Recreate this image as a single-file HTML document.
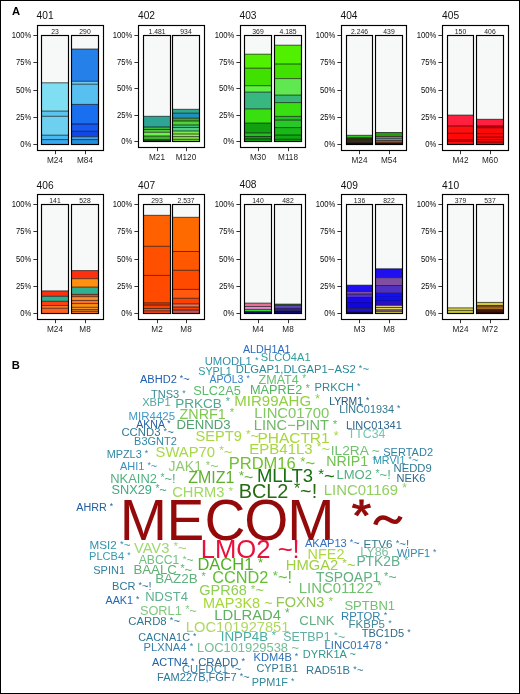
<!DOCTYPE html>
<html><head><meta charset="utf-8"><title>Figure</title>
<style>
html,body{margin:0;padding:0;background:#fff;}
body{width:520px;height:694px;overflow:hidden;}
.fig{position:relative;width:520px;height:694px;box-sizing:border-box;border-left:1.5px solid #000;border-top:1px solid #000;border-right:1.5px solid #000;border-bottom:1.5px solid #000;background:#fff;}
svg{position:absolute;left:0;top:0;will-change:transform;filter:blur(0.3px);}
text{font-family:"Liberation Sans", sans-serif;white-space:pre;}
</style></head><body>
<div class="fig">
<svg width="520" height="694" viewBox="0 0 520 694" style="left:-1.5px;top:-1px">
<rect x="37.5" y="25.5" width="66" height="125" fill="#fff" stroke="#000" stroke-width="1.15"/>
<line x1="33.40" y1="144.5" x2="37" y2="144.5" stroke="#333" stroke-width="1"/>
<line x1="33.40" y1="117.5" x2="37" y2="117.5" stroke="#333" stroke-width="1"/>
<line x1="33.40" y1="90.5" x2="37" y2="90.5" stroke="#333" stroke-width="1"/>
<line x1="33.40" y1="62.5" x2="37" y2="62.5" stroke="#333" stroke-width="1"/>
<line x1="33.40" y1="35.5" x2="37" y2="35.5" stroke="#333" stroke-width="1"/>
<rect x="41" y="35" width="28" height="110" fill="#f7f8f8"/>
<rect x="41" y="82.80" width="28" height="28.30" fill="#80def2"/>
<rect x="41" y="111.10" width="28" height="5.20" fill="#5cc4ee"/>
<rect x="41" y="116.30" width="28" height="18.90" fill="#6dd0f0"/>
<rect x="41" y="135.20" width="28" height="4.40" fill="#48b8f0"/>
<rect x="41" y="139.60" width="28" height="5.40" fill="#38a8f0"/>
<line x1="41" y1="82.80" x2="69" y2="82.80" stroke="#000" stroke-opacity="0.8" stroke-width="0.8"/>
<line x1="41" y1="111.10" x2="69" y2="111.10" stroke="#000" stroke-opacity="0.8" stroke-width="0.8"/>
<line x1="41" y1="116.30" x2="69" y2="116.30" stroke="#000" stroke-opacity="0.8" stroke-width="0.8"/>
<line x1="41" y1="135.20" x2="69" y2="135.20" stroke="#000" stroke-opacity="0.8" stroke-width="0.8"/>
<line x1="41" y1="139.60" x2="69" y2="139.60" stroke="#000" stroke-opacity="0.8" stroke-width="0.8"/>
<rect x="41.5" y="35.5" width="27" height="109" fill="none" stroke="#000" stroke-width="1.15"/>
<line x1="55.5" y1="151" x2="55.5" y2="154.2" stroke="#333" stroke-width="1"/>
<rect x="71" y="35" width="28" height="110" fill="#f7f8f8"/>
<rect x="71" y="49.00" width="28" height="32.30" fill="#2680ea"/>
<rect x="71" y="81.30" width="28" height="2.90" fill="#70c8e8"/>
<rect x="71" y="84.20" width="28" height="20.20" fill="#58c0f0"/>
<rect x="71" y="104.40" width="28" height="19.60" fill="#1a6ef0"/>
<rect x="71" y="124.00" width="28" height="7.30" fill="#1858f0"/>
<rect x="71" y="131.30" width="28" height="5.40" fill="#1048e8"/>
<rect x="71" y="136.70" width="28" height="2.90" fill="#40a0e8"/>
<rect x="71" y="139.60" width="28" height="5.40" fill="#2090e0"/>
<line x1="71" y1="49.00" x2="99" y2="49.00" stroke="#000" stroke-opacity="0.8" stroke-width="0.8"/>
<line x1="71" y1="81.30" x2="99" y2="81.30" stroke="#000" stroke-opacity="0.8" stroke-width="0.8"/>
<line x1="71" y1="84.20" x2="99" y2="84.20" stroke="#000" stroke-opacity="0.8" stroke-width="0.8"/>
<line x1="71" y1="104.40" x2="99" y2="104.40" stroke="#000" stroke-opacity="0.8" stroke-width="0.8"/>
<line x1="71" y1="124.00" x2="99" y2="124.00" stroke="#000" stroke-opacity="0.8" stroke-width="0.8"/>
<line x1="71" y1="131.30" x2="99" y2="131.30" stroke="#000" stroke-opacity="0.8" stroke-width="0.8"/>
<line x1="71" y1="136.70" x2="99" y2="136.70" stroke="#000" stroke-opacity="0.8" stroke-width="0.8"/>
<line x1="71" y1="139.60" x2="99" y2="139.60" stroke="#000" stroke-opacity="0.8" stroke-width="0.8"/>
<rect x="71.5" y="35.5" width="27" height="109" fill="none" stroke="#000" stroke-width="1.15"/>
<line x1="85.5" y1="151" x2="85.5" y2="154.2" stroke="#333" stroke-width="1"/>
<rect x="138.5" y="25.5" width="66" height="122" fill="#fff" stroke="#000" stroke-width="1.15"/>
<line x1="134.40" y1="141.5" x2="138" y2="141.5" stroke="#333" stroke-width="1"/>
<line x1="134.40" y1="115.5" x2="138" y2="115.5" stroke="#333" stroke-width="1"/>
<line x1="134.40" y1="88.5" x2="138" y2="88.5" stroke="#333" stroke-width="1"/>
<line x1="134.40" y1="62.5" x2="138" y2="62.5" stroke="#333" stroke-width="1"/>
<line x1="134.40" y1="35.5" x2="138" y2="35.5" stroke="#333" stroke-width="1"/>
<rect x="143" y="35" width="28" height="107" fill="#f7f8f8"/>
<rect x="143" y="116.30" width="28" height="10.70" fill="#2ea595"/>
<rect x="143" y="127.00" width="28" height="2.50" fill="#40b830"/>
<rect x="143" y="129.50" width="28" height="2.80" fill="#50c840"/>
<rect x="143" y="132.30" width="28" height="3.70" fill="#70f050"/>
<rect x="143" y="136.00" width="28" height="3.70" fill="#40b030"/>
<rect x="143" y="139.70" width="28" height="2.30" fill="#1a5a1a"/>
<line x1="143" y1="116.30" x2="171" y2="116.30" stroke="#000" stroke-opacity="0.8" stroke-width="0.8"/>
<line x1="143" y1="127.00" x2="171" y2="127.00" stroke="#000" stroke-opacity="0.8" stroke-width="0.8"/>
<line x1="143" y1="129.50" x2="171" y2="129.50" stroke="#000" stroke-opacity="0.8" stroke-width="0.8"/>
<line x1="143" y1="132.30" x2="171" y2="132.30" stroke="#000" stroke-opacity="0.8" stroke-width="0.8"/>
<line x1="143" y1="136.00" x2="171" y2="136.00" stroke="#000" stroke-opacity="0.8" stroke-width="0.8"/>
<line x1="143" y1="139.70" x2="171" y2="139.70" stroke="#000" stroke-opacity="0.8" stroke-width="0.8"/>
<rect x="143.5" y="35.5" width="27" height="106" fill="none" stroke="#000" stroke-width="1.15"/>
<line x1="157.5" y1="148" x2="157.5" y2="151.2" stroke="#333" stroke-width="1"/>
<rect x="172" y="35" width="28" height="107" fill="#f7f8f8"/>
<rect x="172" y="109.30" width="28" height="3.90" fill="#30a890"/>
<rect x="172" y="113.20" width="28" height="5.00" fill="#2090c0"/>
<rect x="172" y="118.20" width="28" height="2.80" fill="#40a828"/>
<rect x="172" y="121.00" width="28" height="4.00" fill="#50d040"/>
<rect x="172" y="125.00" width="28" height="2.50" fill="#40c080"/>
<rect x="172" y="127.50" width="28" height="3.50" fill="#50d080"/>
<rect x="172" y="131.00" width="28" height="3.00" fill="#80e850"/>
<rect x="172" y="134.00" width="28" height="2.60" fill="#90ec58"/>
<rect x="172" y="136.60" width="28" height="2.70" fill="#80e440"/>
<rect x="172" y="139.30" width="28" height="2.70" fill="#70d830"/>
<line x1="172" y1="109.30" x2="200" y2="109.30" stroke="#000" stroke-opacity="0.8" stroke-width="0.8"/>
<line x1="172" y1="113.20" x2="200" y2="113.20" stroke="#000" stroke-opacity="0.8" stroke-width="0.8"/>
<line x1="172" y1="118.20" x2="200" y2="118.20" stroke="#000" stroke-opacity="0.8" stroke-width="0.8"/>
<line x1="172" y1="121.00" x2="200" y2="121.00" stroke="#000" stroke-opacity="0.8" stroke-width="0.8"/>
<line x1="172" y1="125.00" x2="200" y2="125.00" stroke="#000" stroke-opacity="0.8" stroke-width="0.8"/>
<line x1="172" y1="127.50" x2="200" y2="127.50" stroke="#000" stroke-opacity="0.8" stroke-width="0.8"/>
<line x1="172" y1="131.00" x2="200" y2="131.00" stroke="#000" stroke-opacity="0.8" stroke-width="0.8"/>
<line x1="172" y1="134.00" x2="200" y2="134.00" stroke="#000" stroke-opacity="0.8" stroke-width="0.8"/>
<line x1="172" y1="136.60" x2="200" y2="136.60" stroke="#000" stroke-opacity="0.8" stroke-width="0.8"/>
<line x1="172" y1="139.30" x2="200" y2="139.30" stroke="#000" stroke-opacity="0.8" stroke-width="0.8"/>
<rect x="172.5" y="35.5" width="27" height="106" fill="none" stroke="#000" stroke-width="1.15"/>
<line x1="186.5" y1="148" x2="186.5" y2="151.2" stroke="#333" stroke-width="1"/>
<rect x="240.5" y="25.5" width="65" height="122" fill="#fff" stroke="#000" stroke-width="1.15"/>
<line x1="236.40" y1="141.5" x2="240" y2="141.5" stroke="#333" stroke-width="1"/>
<line x1="236.40" y1="115.5" x2="240" y2="115.5" stroke="#333" stroke-width="1"/>
<line x1="236.40" y1="88.5" x2="240" y2="88.5" stroke="#333" stroke-width="1"/>
<line x1="236.40" y1="62.5" x2="240" y2="62.5" stroke="#333" stroke-width="1"/>
<line x1="236.40" y1="35.5" x2="240" y2="35.5" stroke="#333" stroke-width="1"/>
<rect x="244" y="35" width="28" height="107" fill="#f7f8f8"/>
<rect x="244" y="54.20" width="28" height="14.00" fill="#50f000"/>
<rect x="244" y="68.20" width="28" height="17.50" fill="#40e000"/>
<rect x="244" y="85.70" width="28" height="6.40" fill="#60f040"/>
<rect x="244" y="92.10" width="28" height="16.80" fill="#38b880"/>
<rect x="244" y="108.90" width="28" height="14.20" fill="#38e010"/>
<rect x="244" y="123.10" width="28" height="9.80" fill="#10a010"/>
<rect x="244" y="132.90" width="28" height="3.60" fill="#20c020"/>
<rect x="244" y="136.50" width="28" height="2.50" fill="#109810"/>
<rect x="244" y="139.00" width="28" height="3.00" fill="#10a010"/>
<line x1="244" y1="54.20" x2="272" y2="54.20" stroke="#000" stroke-opacity="0.8" stroke-width="0.8"/>
<line x1="244" y1="68.20" x2="272" y2="68.20" stroke="#000" stroke-opacity="0.8" stroke-width="0.8"/>
<line x1="244" y1="85.70" x2="272" y2="85.70" stroke="#000" stroke-opacity="0.8" stroke-width="0.8"/>
<line x1="244" y1="92.10" x2="272" y2="92.10" stroke="#000" stroke-opacity="0.8" stroke-width="0.8"/>
<line x1="244" y1="108.90" x2="272" y2="108.90" stroke="#000" stroke-opacity="0.8" stroke-width="0.8"/>
<line x1="244" y1="123.10" x2="272" y2="123.10" stroke="#000" stroke-opacity="0.8" stroke-width="0.8"/>
<line x1="244" y1="132.90" x2="272" y2="132.90" stroke="#000" stroke-opacity="0.8" stroke-width="0.8"/>
<line x1="244" y1="136.50" x2="272" y2="136.50" stroke="#000" stroke-opacity="0.8" stroke-width="0.8"/>
<line x1="244" y1="139.00" x2="272" y2="139.00" stroke="#000" stroke-opacity="0.8" stroke-width="0.8"/>
<rect x="244.5" y="35.5" width="27" height="106" fill="none" stroke="#000" stroke-width="1.15"/>
<line x1="258.5" y1="148" x2="258.5" y2="151.2" stroke="#333" stroke-width="1"/>
<rect x="274" y="35" width="28" height="107" fill="#f7f8f8"/>
<rect x="274" y="45.20" width="28" height="18.80" fill="#50f000"/>
<rect x="274" y="64.00" width="28" height="14.60" fill="#40e000"/>
<rect x="274" y="78.60" width="28" height="16.50" fill="#60e850"/>
<rect x="274" y="95.10" width="28" height="7.50" fill="#38b878"/>
<rect x="274" y="102.60" width="28" height="13.80" fill="#38e010"/>
<rect x="274" y="116.40" width="28" height="3.70" fill="#20c020"/>
<rect x="274" y="120.10" width="28" height="7.50" fill="#28c828"/>
<rect x="274" y="127.60" width="28" height="7.50" fill="#18b818"/>
<rect x="274" y="135.10" width="28" height="4.20" fill="#10a810"/>
<rect x="274" y="139.30" width="28" height="2.70" fill="#10a010"/>
<line x1="274" y1="45.20" x2="302" y2="45.20" stroke="#000" stroke-opacity="0.8" stroke-width="0.8"/>
<line x1="274" y1="64.00" x2="302" y2="64.00" stroke="#000" stroke-opacity="0.8" stroke-width="0.8"/>
<line x1="274" y1="78.60" x2="302" y2="78.60" stroke="#000" stroke-opacity="0.8" stroke-width="0.8"/>
<line x1="274" y1="95.10" x2="302" y2="95.10" stroke="#000" stroke-opacity="0.8" stroke-width="0.8"/>
<line x1="274" y1="102.60" x2="302" y2="102.60" stroke="#000" stroke-opacity="0.8" stroke-width="0.8"/>
<line x1="274" y1="116.40" x2="302" y2="116.40" stroke="#000" stroke-opacity="0.8" stroke-width="0.8"/>
<line x1="274" y1="120.10" x2="302" y2="120.10" stroke="#000" stroke-opacity="0.8" stroke-width="0.8"/>
<line x1="274" y1="127.60" x2="302" y2="127.60" stroke="#000" stroke-opacity="0.8" stroke-width="0.8"/>
<line x1="274" y1="135.10" x2="302" y2="135.10" stroke="#000" stroke-opacity="0.8" stroke-width="0.8"/>
<line x1="274" y1="139.30" x2="302" y2="139.30" stroke="#000" stroke-opacity="0.8" stroke-width="0.8"/>
<rect x="274.5" y="35.5" width="27" height="106" fill="none" stroke="#000" stroke-width="1.15"/>
<line x1="288.5" y1="148" x2="288.5" y2="151.2" stroke="#333" stroke-width="1"/>
<rect x="341.5" y="25.5" width="65" height="125" fill="#fff" stroke="#000" stroke-width="1.15"/>
<line x1="337.40" y1="144.5" x2="341" y2="144.5" stroke="#333" stroke-width="1"/>
<line x1="337.40" y1="117.5" x2="341" y2="117.5" stroke="#333" stroke-width="1"/>
<line x1="337.40" y1="90.5" x2="341" y2="90.5" stroke="#333" stroke-width="1"/>
<line x1="337.40" y1="62.5" x2="341" y2="62.5" stroke="#333" stroke-width="1"/>
<line x1="337.40" y1="35.5" x2="341" y2="35.5" stroke="#333" stroke-width="1"/>
<rect x="346" y="35" width="27" height="110" fill="#f7f8f8"/>
<rect x="346" y="135.30" width="27" height="2.50" fill="#30c020"/>
<rect x="346" y="137.80" width="27" height="2.40" fill="#304010"/>
<rect x="346" y="140.20" width="27" height="2.40" fill="#403010"/>
<rect x="346" y="142.60" width="27" height="2.40" fill="#300404"/>
<line x1="346" y1="135.30" x2="373" y2="135.30" stroke="#000" stroke-opacity="0.8" stroke-width="0.8"/>
<line x1="346" y1="137.80" x2="373" y2="137.80" stroke="#000" stroke-opacity="0.8" stroke-width="0.8"/>
<line x1="346" y1="140.20" x2="373" y2="140.20" stroke="#000" stroke-opacity="0.8" stroke-width="0.8"/>
<line x1="346" y1="142.60" x2="373" y2="142.60" stroke="#000" stroke-opacity="0.8" stroke-width="0.8"/>
<rect x="346.5" y="35.5" width="26" height="109" fill="none" stroke="#000" stroke-width="1.15"/>
<line x1="359.5" y1="151" x2="359.5" y2="154.2" stroke="#333" stroke-width="1"/>
<rect x="375" y="35" width="28" height="110" fill="#f7f8f8"/>
<rect x="375" y="132.50" width="28" height="4.00" fill="#20a010"/>
<rect x="375" y="136.50" width="28" height="1.80" fill="#f06060"/>
<rect x="375" y="138.30" width="28" height="2.30" fill="#40a0b0"/>
<rect x="375" y="140.60" width="28" height="2.20" fill="#c05018"/>
<rect x="375" y="142.80" width="28" height="2.20" fill="#401008"/>
<line x1="375" y1="132.50" x2="403" y2="132.50" stroke="#000" stroke-opacity="0.8" stroke-width="0.8"/>
<line x1="375" y1="136.50" x2="403" y2="136.50" stroke="#000" stroke-opacity="0.8" stroke-width="0.8"/>
<line x1="375" y1="138.30" x2="403" y2="138.30" stroke="#000" stroke-opacity="0.8" stroke-width="0.8"/>
<line x1="375" y1="140.60" x2="403" y2="140.60" stroke="#000" stroke-opacity="0.8" stroke-width="0.8"/>
<line x1="375" y1="142.80" x2="403" y2="142.80" stroke="#000" stroke-opacity="0.8" stroke-width="0.8"/>
<rect x="375.5" y="35.5" width="27" height="109" fill="none" stroke="#000" stroke-width="1.15"/>
<line x1="389.5" y1="151" x2="389.5" y2="154.2" stroke="#333" stroke-width="1"/>
<rect x="442.5" y="25.5" width="66" height="125" fill="#fff" stroke="#000" stroke-width="1.15"/>
<line x1="438.40" y1="144.5" x2="442" y2="144.5" stroke="#333" stroke-width="1"/>
<line x1="438.40" y1="117.5" x2="442" y2="117.5" stroke="#333" stroke-width="1"/>
<line x1="438.40" y1="90.5" x2="442" y2="90.5" stroke="#333" stroke-width="1"/>
<line x1="438.40" y1="62.5" x2="442" y2="62.5" stroke="#333" stroke-width="1"/>
<line x1="438.40" y1="35.5" x2="442" y2="35.5" stroke="#333" stroke-width="1"/>
<rect x="447" y="35" width="27" height="110" fill="#f7f8f8"/>
<rect x="447" y="115.10" width="27" height="10.80" fill="#ff2040"/>
<rect x="447" y="125.90" width="27" height="7.40" fill="#ff1010"/>
<rect x="447" y="133.30" width="27" height="6.30" fill="#ff0808"/>
<rect x="447" y="139.60" width="27" height="1.80" fill="#e00000"/>
<rect x="447" y="141.40" width="27" height="3.60" fill="#ff1010"/>
<line x1="447" y1="115.10" x2="474" y2="115.10" stroke="#000" stroke-opacity="0.8" stroke-width="0.8"/>
<line x1="447" y1="125.90" x2="474" y2="125.90" stroke="#000" stroke-opacity="0.8" stroke-width="0.8"/>
<line x1="447" y1="133.30" x2="474" y2="133.30" stroke="#000" stroke-opacity="0.8" stroke-width="0.8"/>
<line x1="447" y1="139.60" x2="474" y2="139.60" stroke="#000" stroke-opacity="0.8" stroke-width="0.8"/>
<line x1="447" y1="141.40" x2="474" y2="141.40" stroke="#000" stroke-opacity="0.8" stroke-width="0.8"/>
<rect x="447.5" y="35.5" width="26" height="109" fill="none" stroke="#000" stroke-width="1.15"/>
<line x1="460.5" y1="151" x2="460.5" y2="154.2" stroke="#333" stroke-width="1"/>
<rect x="476" y="35" width="28" height="110" fill="#f7f8f8"/>
<rect x="476" y="119.30" width="28" height="6.60" fill="#ff2040"/>
<rect x="476" y="125.90" width="28" height="1.80" fill="#e00010"/>
<rect x="476" y="127.70" width="28" height="5.90" fill="#ff0808"/>
<rect x="476" y="133.60" width="28" height="3.60" fill="#ff0808"/>
<rect x="476" y="137.20" width="28" height="2.40" fill="#ff0808"/>
<rect x="476" y="139.60" width="28" height="2.40" fill="#ff0808"/>
<rect x="476" y="142.00" width="28" height="3.00" fill="#ff0808"/>
<line x1="476" y1="119.30" x2="504" y2="119.30" stroke="#000" stroke-opacity="0.8" stroke-width="0.8"/>
<line x1="476" y1="125.90" x2="504" y2="125.90" stroke="#000" stroke-opacity="0.8" stroke-width="0.8"/>
<line x1="476" y1="127.70" x2="504" y2="127.70" stroke="#000" stroke-opacity="0.8" stroke-width="0.8"/>
<line x1="476" y1="133.60" x2="504" y2="133.60" stroke="#000" stroke-opacity="0.8" stroke-width="0.8"/>
<line x1="476" y1="137.20" x2="504" y2="137.20" stroke="#000" stroke-opacity="0.8" stroke-width="0.8"/>
<line x1="476" y1="139.60" x2="504" y2="139.60" stroke="#000" stroke-opacity="0.8" stroke-width="0.8"/>
<line x1="476" y1="142.00" x2="504" y2="142.00" stroke="#000" stroke-opacity="0.8" stroke-width="0.8"/>
<rect x="476.5" y="35.5" width="27" height="109" fill="none" stroke="#000" stroke-width="1.15"/>
<line x1="490.5" y1="151" x2="490.5" y2="154.2" stroke="#333" stroke-width="1"/>
<rect x="37.5" y="194.5" width="66" height="125" fill="#fff" stroke="#000" stroke-width="1.15"/>
<line x1="33.40" y1="313.5" x2="37" y2="313.5" stroke="#333" stroke-width="1"/>
<line x1="33.40" y1="286.5" x2="37" y2="286.5" stroke="#333" stroke-width="1"/>
<line x1="33.40" y1="259.5" x2="37" y2="259.5" stroke="#333" stroke-width="1"/>
<line x1="33.40" y1="231.5" x2="37" y2="231.5" stroke="#333" stroke-width="1"/>
<line x1="33.40" y1="204.5" x2="37" y2="204.5" stroke="#333" stroke-width="1"/>
<rect x="41" y="204" width="28" height="110" fill="#f7f8f8"/>
<rect x="41" y="290.90" width="28" height="5.40" fill="#ff3010"/>
<rect x="41" y="296.30" width="28" height="5.00" fill="#30b090"/>
<rect x="41" y="301.30" width="28" height="4.30" fill="#ff4010"/>
<rect x="41" y="305.60" width="28" height="2.60" fill="#ff8030"/>
<rect x="41" y="308.20" width="28" height="5.80" fill="#ff6020"/>
<line x1="41" y1="290.90" x2="69" y2="290.90" stroke="#000" stroke-opacity="0.8" stroke-width="0.8"/>
<line x1="41" y1="296.30" x2="69" y2="296.30" stroke="#000" stroke-opacity="0.8" stroke-width="0.8"/>
<line x1="41" y1="301.30" x2="69" y2="301.30" stroke="#000" stroke-opacity="0.8" stroke-width="0.8"/>
<line x1="41" y1="305.60" x2="69" y2="305.60" stroke="#000" stroke-opacity="0.8" stroke-width="0.8"/>
<line x1="41" y1="308.20" x2="69" y2="308.20" stroke="#000" stroke-opacity="0.8" stroke-width="0.8"/>
<rect x="41.5" y="204.5" width="27" height="109" fill="none" stroke="#000" stroke-width="1.15"/>
<line x1="55.5" y1="320" x2="55.5" y2="323.2" stroke="#333" stroke-width="1"/>
<rect x="71" y="204" width="28" height="110" fill="#f7f8f8"/>
<rect x="71" y="270.60" width="28" height="8.10" fill="#ff3010"/>
<rect x="71" y="278.70" width="28" height="8.40" fill="#ff9010"/>
<rect x="71" y="287.10" width="28" height="7.30" fill="#30b090"/>
<rect x="71" y="294.40" width="28" height="2.30" fill="#ff4010"/>
<rect x="71" y="296.70" width="28" height="3.70" fill="#ff9030"/>
<rect x="71" y="300.40" width="28" height="3.20" fill="#ff7020"/>
<rect x="71" y="303.60" width="28" height="3.70" fill="#ff9010"/>
<rect x="71" y="307.30" width="28" height="2.10" fill="#ffa020"/>
<rect x="71" y="309.40" width="28" height="1.90" fill="#e08020"/>
<rect x="71" y="311.30" width="28" height="2.70" fill="#ff7020"/>
<line x1="71" y1="270.60" x2="99" y2="270.60" stroke="#000" stroke-opacity="0.8" stroke-width="0.8"/>
<line x1="71" y1="278.70" x2="99" y2="278.70" stroke="#000" stroke-opacity="0.8" stroke-width="0.8"/>
<line x1="71" y1="287.10" x2="99" y2="287.10" stroke="#000" stroke-opacity="0.8" stroke-width="0.8"/>
<line x1="71" y1="294.40" x2="99" y2="294.40" stroke="#000" stroke-opacity="0.8" stroke-width="0.8"/>
<line x1="71" y1="296.70" x2="99" y2="296.70" stroke="#000" stroke-opacity="0.8" stroke-width="0.8"/>
<line x1="71" y1="300.40" x2="99" y2="300.40" stroke="#000" stroke-opacity="0.8" stroke-width="0.8"/>
<line x1="71" y1="303.60" x2="99" y2="303.60" stroke="#000" stroke-opacity="0.8" stroke-width="0.8"/>
<line x1="71" y1="307.30" x2="99" y2="307.30" stroke="#000" stroke-opacity="0.8" stroke-width="0.8"/>
<line x1="71" y1="309.40" x2="99" y2="309.40" stroke="#000" stroke-opacity="0.8" stroke-width="0.8"/>
<line x1="71" y1="311.30" x2="99" y2="311.30" stroke="#000" stroke-opacity="0.8" stroke-width="0.8"/>
<rect x="71.5" y="204.5" width="27" height="109" fill="none" stroke="#000" stroke-width="1.15"/>
<line x1="85.5" y1="320" x2="85.5" y2="323.2" stroke="#333" stroke-width="1"/>
<rect x="138.5" y="194.5" width="66" height="125" fill="#fff" stroke="#000" stroke-width="1.15"/>
<line x1="134.40" y1="313.5" x2="138" y2="313.5" stroke="#333" stroke-width="1"/>
<line x1="134.40" y1="286.5" x2="138" y2="286.5" stroke="#333" stroke-width="1"/>
<line x1="134.40" y1="259.5" x2="138" y2="259.5" stroke="#333" stroke-width="1"/>
<line x1="134.40" y1="231.5" x2="138" y2="231.5" stroke="#333" stroke-width="1"/>
<line x1="134.40" y1="204.5" x2="138" y2="204.5" stroke="#333" stroke-width="1"/>
<rect x="143" y="204" width="28" height="110" fill="#f7f8f8"/>
<rect x="143" y="215.30" width="28" height="31.00" fill="#ff6000"/>
<rect x="143" y="246.30" width="28" height="29.10" fill="#ff5000"/>
<rect x="143" y="275.40" width="28" height="27.50" fill="#ff4a00"/>
<rect x="143" y="302.90" width="28" height="2.10" fill="#f04010"/>
<rect x="143" y="305.00" width="28" height="3.50" fill="#ff4000"/>
<rect x="143" y="308.50" width="28" height="2.30" fill="#ff5010"/>
<rect x="143" y="310.80" width="28" height="3.20" fill="#ff4010"/>
<line x1="143" y1="215.30" x2="171" y2="215.30" stroke="#000" stroke-opacity="0.8" stroke-width="0.8"/>
<line x1="143" y1="246.30" x2="171" y2="246.30" stroke="#000" stroke-opacity="0.8" stroke-width="0.8"/>
<line x1="143" y1="275.40" x2="171" y2="275.40" stroke="#000" stroke-opacity="0.8" stroke-width="0.8"/>
<line x1="143" y1="302.90" x2="171" y2="302.90" stroke="#000" stroke-opacity="0.8" stroke-width="0.8"/>
<line x1="143" y1="305.00" x2="171" y2="305.00" stroke="#000" stroke-opacity="0.8" stroke-width="0.8"/>
<line x1="143" y1="308.50" x2="171" y2="308.50" stroke="#000" stroke-opacity="0.8" stroke-width="0.8"/>
<line x1="143" y1="310.80" x2="171" y2="310.80" stroke="#000" stroke-opacity="0.8" stroke-width="0.8"/>
<rect x="143.5" y="204.5" width="27" height="109" fill="none" stroke="#000" stroke-width="1.15"/>
<line x1="157.5" y1="320" x2="157.5" y2="323.2" stroke="#333" stroke-width="1"/>
<rect x="172" y="204" width="28" height="110" fill="#f7f8f8"/>
<rect x="172" y="217.30" width="28" height="34.20" fill="#ff6a00"/>
<rect x="172" y="251.50" width="28" height="18.80" fill="#ff5800"/>
<rect x="172" y="270.30" width="28" height="19.10" fill="#ff4a00"/>
<rect x="172" y="289.40" width="28" height="8.90" fill="#ff5a10"/>
<rect x="172" y="298.30" width="28" height="5.60" fill="#ff4000"/>
<rect x="172" y="303.90" width="28" height="3.10" fill="#f07050"/>
<rect x="172" y="307.00" width="28" height="3.00" fill="#ff4000"/>
<rect x="172" y="310.00" width="28" height="4.00" fill="#c85050"/>
<line x1="172" y1="217.30" x2="200" y2="217.30" stroke="#000" stroke-opacity="0.8" stroke-width="0.8"/>
<line x1="172" y1="251.50" x2="200" y2="251.50" stroke="#000" stroke-opacity="0.8" stroke-width="0.8"/>
<line x1="172" y1="270.30" x2="200" y2="270.30" stroke="#000" stroke-opacity="0.8" stroke-width="0.8"/>
<line x1="172" y1="289.40" x2="200" y2="289.40" stroke="#000" stroke-opacity="0.8" stroke-width="0.8"/>
<line x1="172" y1="298.30" x2="200" y2="298.30" stroke="#000" stroke-opacity="0.8" stroke-width="0.8"/>
<line x1="172" y1="303.90" x2="200" y2="303.90" stroke="#000" stroke-opacity="0.8" stroke-width="0.8"/>
<line x1="172" y1="307.00" x2="200" y2="307.00" stroke="#000" stroke-opacity="0.8" stroke-width="0.8"/>
<line x1="172" y1="310.00" x2="200" y2="310.00" stroke="#000" stroke-opacity="0.8" stroke-width="0.8"/>
<rect x="172.5" y="204.5" width="27" height="109" fill="none" stroke="#000" stroke-width="1.15"/>
<line x1="186.5" y1="320" x2="186.5" y2="323.2" stroke="#333" stroke-width="1"/>
<rect x="240.5" y="194.5" width="65" height="125" fill="#fff" stroke="#000" stroke-width="1.15"/>
<line x1="236.40" y1="313.5" x2="240" y2="313.5" stroke="#333" stroke-width="1"/>
<line x1="236.40" y1="286.5" x2="240" y2="286.5" stroke="#333" stroke-width="1"/>
<line x1="236.40" y1="259.5" x2="240" y2="259.5" stroke="#333" stroke-width="1"/>
<line x1="236.40" y1="231.5" x2="240" y2="231.5" stroke="#333" stroke-width="1"/>
<line x1="236.40" y1="204.5" x2="240" y2="204.5" stroke="#333" stroke-width="1"/>
<rect x="244" y="204" width="28" height="110" fill="#f7f8f8"/>
<rect x="244" y="303.10" width="28" height="3.40" fill="#e87090"/>
<rect x="244" y="306.50" width="28" height="2.90" fill="#e888e0"/>
<rect x="244" y="309.40" width="28" height="2.20" fill="#30e030"/>
<rect x="244" y="311.60" width="28" height="2.40" fill="#101060"/>
<line x1="244" y1="303.10" x2="272" y2="303.10" stroke="#000" stroke-opacity="0.8" stroke-width="0.8"/>
<line x1="244" y1="306.50" x2="272" y2="306.50" stroke="#000" stroke-opacity="0.8" stroke-width="0.8"/>
<line x1="244" y1="309.40" x2="272" y2="309.40" stroke="#000" stroke-opacity="0.8" stroke-width="0.8"/>
<line x1="244" y1="311.60" x2="272" y2="311.60" stroke="#000" stroke-opacity="0.8" stroke-width="0.8"/>
<rect x="244.5" y="204.5" width="27" height="109" fill="none" stroke="#000" stroke-width="1.15"/>
<line x1="258.5" y1="320" x2="258.5" y2="323.2" stroke="#333" stroke-width="1"/>
<rect x="274" y="204" width="28" height="110" fill="#f7f8f8"/>
<rect x="274" y="304.10" width="28" height="1.60" fill="#306030"/>
<rect x="274" y="305.70" width="28" height="2.50" fill="#7050d0"/>
<rect x="274" y="308.20" width="28" height="2.60" fill="#3020b0"/>
<rect x="274" y="310.80" width="28" height="3.20" fill="#100870"/>
<line x1="274" y1="304.10" x2="302" y2="304.10" stroke="#000" stroke-opacity="0.8" stroke-width="0.8"/>
<line x1="274" y1="305.70" x2="302" y2="305.70" stroke="#000" stroke-opacity="0.8" stroke-width="0.8"/>
<line x1="274" y1="308.20" x2="302" y2="308.20" stroke="#000" stroke-opacity="0.8" stroke-width="0.8"/>
<line x1="274" y1="310.80" x2="302" y2="310.80" stroke="#000" stroke-opacity="0.8" stroke-width="0.8"/>
<rect x="274.5" y="204.5" width="27" height="109" fill="none" stroke="#000" stroke-width="1.15"/>
<line x1="288.5" y1="320" x2="288.5" y2="323.2" stroke="#333" stroke-width="1"/>
<rect x="341.5" y="194.5" width="65" height="125" fill="#fff" stroke="#000" stroke-width="1.15"/>
<line x1="337.40" y1="313.5" x2="341" y2="313.5" stroke="#333" stroke-width="1"/>
<line x1="337.40" y1="286.5" x2="341" y2="286.5" stroke="#333" stroke-width="1"/>
<line x1="337.40" y1="259.5" x2="341" y2="259.5" stroke="#333" stroke-width="1"/>
<line x1="337.40" y1="231.5" x2="341" y2="231.5" stroke="#333" stroke-width="1"/>
<line x1="337.40" y1="204.5" x2="341" y2="204.5" stroke="#333" stroke-width="1"/>
<rect x="346" y="204" width="27" height="110" fill="#f7f8f8"/>
<rect x="346" y="285.20" width="27" height="6.30" fill="#2010f0"/>
<rect x="346" y="291.50" width="27" height="2.60" fill="#8050a0"/>
<rect x="346" y="294.10" width="27" height="3.40" fill="#5030d0"/>
<rect x="346" y="297.50" width="27" height="5.60" fill="#1808e8"/>
<rect x="346" y="303.10" width="27" height="5.30" fill="#1008d8"/>
<rect x="346" y="308.40" width="27" height="3.20" fill="#2010d0"/>
<rect x="346" y="311.60" width="27" height="2.40" fill="#100040"/>
<line x1="346" y1="285.20" x2="373" y2="285.20" stroke="#000" stroke-opacity="0.8" stroke-width="0.8"/>
<line x1="346" y1="291.50" x2="373" y2="291.50" stroke="#000" stroke-opacity="0.8" stroke-width="0.8"/>
<line x1="346" y1="294.10" x2="373" y2="294.10" stroke="#000" stroke-opacity="0.8" stroke-width="0.8"/>
<line x1="346" y1="297.50" x2="373" y2="297.50" stroke="#000" stroke-opacity="0.8" stroke-width="0.8"/>
<line x1="346" y1="303.10" x2="373" y2="303.10" stroke="#000" stroke-opacity="0.8" stroke-width="0.8"/>
<line x1="346" y1="308.40" x2="373" y2="308.40" stroke="#000" stroke-opacity="0.8" stroke-width="0.8"/>
<line x1="346" y1="311.60" x2="373" y2="311.60" stroke="#000" stroke-opacity="0.8" stroke-width="0.8"/>
<rect x="346.5" y="204.5" width="26" height="109" fill="none" stroke="#000" stroke-width="1.15"/>
<line x1="359.5" y1="320" x2="359.5" y2="323.2" stroke="#333" stroke-width="1"/>
<rect x="375" y="204" width="28" height="110" fill="#f7f8f8"/>
<rect x="375" y="268.80" width="28" height="8.90" fill="#2010f0"/>
<rect x="375" y="277.70" width="28" height="7.80" fill="#8050a0"/>
<rect x="375" y="285.50" width="28" height="7.70" fill="#5030c0"/>
<rect x="375" y="293.20" width="28" height="4.10" fill="#1010f0"/>
<rect x="375" y="297.30" width="28" height="3.90" fill="#1010e0"/>
<rect x="375" y="301.20" width="28" height="4.20" fill="#2810c0"/>
<rect x="375" y="305.40" width="28" height="2.10" fill="#e0c880"/>
<rect x="375" y="307.50" width="28" height="2.30" fill="#e0d860"/>
<rect x="375" y="309.80" width="28" height="1.90" fill="#806080"/>
<rect x="375" y="311.70" width="28" height="2.30" fill="#e0e040"/>
<line x1="375" y1="268.80" x2="403" y2="268.80" stroke="#000" stroke-opacity="0.8" stroke-width="0.8"/>
<line x1="375" y1="277.70" x2="403" y2="277.70" stroke="#000" stroke-opacity="0.8" stroke-width="0.8"/>
<line x1="375" y1="285.50" x2="403" y2="285.50" stroke="#000" stroke-opacity="0.8" stroke-width="0.8"/>
<line x1="375" y1="293.20" x2="403" y2="293.20" stroke="#000" stroke-opacity="0.8" stroke-width="0.8"/>
<line x1="375" y1="297.30" x2="403" y2="297.30" stroke="#000" stroke-opacity="0.8" stroke-width="0.8"/>
<line x1="375" y1="301.20" x2="403" y2="301.20" stroke="#000" stroke-opacity="0.8" stroke-width="0.8"/>
<line x1="375" y1="305.40" x2="403" y2="305.40" stroke="#000" stroke-opacity="0.8" stroke-width="0.8"/>
<line x1="375" y1="307.50" x2="403" y2="307.50" stroke="#000" stroke-opacity="0.8" stroke-width="0.8"/>
<line x1="375" y1="309.80" x2="403" y2="309.80" stroke="#000" stroke-opacity="0.8" stroke-width="0.8"/>
<line x1="375" y1="311.70" x2="403" y2="311.70" stroke="#000" stroke-opacity="0.8" stroke-width="0.8"/>
<rect x="375.5" y="204.5" width="27" height="109" fill="none" stroke="#000" stroke-width="1.15"/>
<line x1="389.5" y1="320" x2="389.5" y2="323.2" stroke="#333" stroke-width="1"/>
<rect x="442.5" y="194.5" width="66" height="125" fill="#fff" stroke="#000" stroke-width="1.15"/>
<line x1="438.40" y1="313.5" x2="442" y2="313.5" stroke="#333" stroke-width="1"/>
<line x1="438.40" y1="286.5" x2="442" y2="286.5" stroke="#333" stroke-width="1"/>
<line x1="438.40" y1="259.5" x2="442" y2="259.5" stroke="#333" stroke-width="1"/>
<line x1="438.40" y1="231.5" x2="442" y2="231.5" stroke="#333" stroke-width="1"/>
<line x1="438.40" y1="204.5" x2="442" y2="204.5" stroke="#333" stroke-width="1"/>
<rect x="447" y="204" width="27" height="110" fill="#f7f8f8"/>
<rect x="447" y="307.90" width="27" height="2.50" fill="#d8d840"/>
<rect x="447" y="310.40" width="27" height="3.60" fill="#c8c830"/>
<line x1="447" y1="307.90" x2="474" y2="307.90" stroke="#000" stroke-opacity="0.8" stroke-width="0.8"/>
<line x1="447" y1="310.40" x2="474" y2="310.40" stroke="#000" stroke-opacity="0.8" stroke-width="0.8"/>
<rect x="447.5" y="204.5" width="26" height="109" fill="none" stroke="#000" stroke-width="1.15"/>
<line x1="460.5" y1="320" x2="460.5" y2="323.2" stroke="#333" stroke-width="1"/>
<rect x="476" y="204" width="28" height="110" fill="#f7f8f8"/>
<rect x="476" y="302.40" width="28" height="3.10" fill="#d0c840"/>
<rect x="476" y="305.50" width="28" height="1.40" fill="#c06010"/>
<rect x="476" y="306.90" width="28" height="2.40" fill="#c08020"/>
<rect x="476" y="309.30" width="28" height="1.90" fill="#502000"/>
<rect x="476" y="311.20" width="28" height="2.80" fill="#300800"/>
<line x1="476" y1="302.40" x2="504" y2="302.40" stroke="#000" stroke-opacity="0.8" stroke-width="0.8"/>
<line x1="476" y1="305.50" x2="504" y2="305.50" stroke="#000" stroke-opacity="0.8" stroke-width="0.8"/>
<line x1="476" y1="306.90" x2="504" y2="306.90" stroke="#000" stroke-opacity="0.8" stroke-width="0.8"/>
<line x1="476" y1="309.30" x2="504" y2="309.30" stroke="#000" stroke-opacity="0.8" stroke-width="0.8"/>
<line x1="476" y1="311.20" x2="504" y2="311.20" stroke="#000" stroke-opacity="0.8" stroke-width="0.8"/>
<rect x="476.5" y="204.5" width="27" height="109" fill="none" stroke="#000" stroke-width="1.15"/>
<line x1="490.5" y1="320" x2="490.5" y2="323.2" stroke="#333" stroke-width="1"/>
<text x="36.60" y="19.40" font-size="10.20" fill="#111" text-anchor="start" font-weight="normal">401</text>
<text transform="translate(31.40,146.70) scale(0.88,1)" font-size="8.7" fill="#0a0a0a" text-anchor="end">0%</text>
<text transform="translate(31.40,119.70) scale(0.88,1)" font-size="8.7" fill="#0a0a0a" text-anchor="end">25%</text>
<text transform="translate(31.40,92.70) scale(0.88,1)" font-size="8.7" fill="#0a0a0a" text-anchor="end">50%</text>
<text transform="translate(31.40,64.70) scale(0.88,1)" font-size="8.7" fill="#0a0a0a" text-anchor="end">75%</text>
<text transform="translate(31.40,37.70) scale(0.88,1)" font-size="8.7" fill="#0a0a0a" text-anchor="end">100%</text>
<text x="55.00" y="33.60" font-size="6.80" fill="#222" text-anchor="middle" font-weight="normal">23</text>
<text x="55.00" y="163.00" font-size="8.20" fill="#1e1e1e" text-anchor="middle" font-weight="normal">M24</text>
<text x="85.00" y="33.60" font-size="6.80" fill="#222" text-anchor="middle" font-weight="normal">290</text>
<text x="85.00" y="163.00" font-size="8.20" fill="#1e1e1e" text-anchor="middle" font-weight="normal">M84</text>
<text x="138.00" y="19.40" font-size="10.20" fill="#111" text-anchor="start" font-weight="normal">402</text>
<text transform="translate(132.40,143.70) scale(0.88,1)" font-size="8.7" fill="#0a0a0a" text-anchor="end">0%</text>
<text transform="translate(132.40,117.70) scale(0.88,1)" font-size="8.7" fill="#0a0a0a" text-anchor="end">25%</text>
<text transform="translate(132.40,90.70) scale(0.88,1)" font-size="8.7" fill="#0a0a0a" text-anchor="end">50%</text>
<text transform="translate(132.40,64.70) scale(0.88,1)" font-size="8.7" fill="#0a0a0a" text-anchor="end">75%</text>
<text transform="translate(132.40,37.70) scale(0.88,1)" font-size="8.7" fill="#0a0a0a" text-anchor="end">100%</text>
<text x="157.00" y="33.60" font-size="6.80" fill="#222" text-anchor="middle" font-weight="normal">1.481</text>
<text x="157.00" y="160.00" font-size="8.20" fill="#1e1e1e" text-anchor="middle" font-weight="normal">M21</text>
<text x="186.00" y="33.60" font-size="6.80" fill="#222" text-anchor="middle" font-weight="normal">934</text>
<text x="186.00" y="160.00" font-size="8.20" fill="#1e1e1e" text-anchor="middle" font-weight="normal">M120</text>
<text x="239.50" y="19.40" font-size="10.20" fill="#111" text-anchor="start" font-weight="normal">403</text>
<text transform="translate(234.40,143.70) scale(0.88,1)" font-size="8.7" fill="#0a0a0a" text-anchor="end">0%</text>
<text transform="translate(234.40,117.70) scale(0.88,1)" font-size="8.7" fill="#0a0a0a" text-anchor="end">25%</text>
<text transform="translate(234.40,90.70) scale(0.88,1)" font-size="8.7" fill="#0a0a0a" text-anchor="end">50%</text>
<text transform="translate(234.40,64.70) scale(0.88,1)" font-size="8.7" fill="#0a0a0a" text-anchor="end">75%</text>
<text transform="translate(234.40,37.70) scale(0.88,1)" font-size="8.7" fill="#0a0a0a" text-anchor="end">100%</text>
<text x="258.00" y="33.60" font-size="6.80" fill="#222" text-anchor="middle" font-weight="normal">369</text>
<text x="258.00" y="160.00" font-size="8.20" fill="#1e1e1e" text-anchor="middle" font-weight="normal">M30</text>
<text x="288.00" y="33.60" font-size="6.80" fill="#222" text-anchor="middle" font-weight="normal">4.185</text>
<text x="288.00" y="160.00" font-size="8.20" fill="#1e1e1e" text-anchor="middle" font-weight="normal">M118</text>
<text x="340.50" y="19.40" font-size="10.20" fill="#111" text-anchor="start" font-weight="normal">404</text>
<text transform="translate(335.40,146.70) scale(0.88,1)" font-size="8.7" fill="#0a0a0a" text-anchor="end">0%</text>
<text transform="translate(335.40,119.70) scale(0.88,1)" font-size="8.7" fill="#0a0a0a" text-anchor="end">25%</text>
<text transform="translate(335.40,92.70) scale(0.88,1)" font-size="8.7" fill="#0a0a0a" text-anchor="end">50%</text>
<text transform="translate(335.40,64.70) scale(0.88,1)" font-size="8.7" fill="#0a0a0a" text-anchor="end">75%</text>
<text transform="translate(335.40,37.70) scale(0.88,1)" font-size="8.7" fill="#0a0a0a" text-anchor="end">100%</text>
<text x="359.50" y="33.60" font-size="6.80" fill="#222" text-anchor="middle" font-weight="normal">2.246</text>
<text x="359.50" y="163.00" font-size="8.20" fill="#1e1e1e" text-anchor="middle" font-weight="normal">M24</text>
<text x="389.00" y="33.60" font-size="6.80" fill="#222" text-anchor="middle" font-weight="normal">439</text>
<text x="389.00" y="163.00" font-size="8.20" fill="#1e1e1e" text-anchor="middle" font-weight="normal">M54</text>
<text x="442.10" y="19.40" font-size="10.20" fill="#111" text-anchor="start" font-weight="normal">405</text>
<text transform="translate(436.40,146.70) scale(0.88,1)" font-size="8.7" fill="#0a0a0a" text-anchor="end">0%</text>
<text transform="translate(436.40,119.70) scale(0.88,1)" font-size="8.7" fill="#0a0a0a" text-anchor="end">25%</text>
<text transform="translate(436.40,92.70) scale(0.88,1)" font-size="8.7" fill="#0a0a0a" text-anchor="end">50%</text>
<text transform="translate(436.40,64.70) scale(0.88,1)" font-size="8.7" fill="#0a0a0a" text-anchor="end">75%</text>
<text transform="translate(436.40,37.70) scale(0.88,1)" font-size="8.7" fill="#0a0a0a" text-anchor="end">100%</text>
<text x="460.50" y="33.60" font-size="6.80" fill="#222" text-anchor="middle" font-weight="normal">150</text>
<text x="460.50" y="163.00" font-size="8.20" fill="#1e1e1e" text-anchor="middle" font-weight="normal">M42</text>
<text x="490.00" y="33.60" font-size="6.80" fill="#222" text-anchor="middle" font-weight="normal">406</text>
<text x="490.00" y="163.00" font-size="8.20" fill="#1e1e1e" text-anchor="middle" font-weight="normal">M60</text>
<text x="36.60" y="188.60" font-size="10.20" fill="#111" text-anchor="start" font-weight="normal">406</text>
<text transform="translate(31.40,315.70) scale(0.88,1)" font-size="8.7" fill="#0a0a0a" text-anchor="end">0%</text>
<text transform="translate(31.40,288.70) scale(0.88,1)" font-size="8.7" fill="#0a0a0a" text-anchor="end">25%</text>
<text transform="translate(31.40,261.70) scale(0.88,1)" font-size="8.7" fill="#0a0a0a" text-anchor="end">50%</text>
<text transform="translate(31.40,233.70) scale(0.88,1)" font-size="8.7" fill="#0a0a0a" text-anchor="end">75%</text>
<text transform="translate(31.40,206.70) scale(0.88,1)" font-size="8.7" fill="#0a0a0a" text-anchor="end">100%</text>
<text x="55.00" y="202.60" font-size="6.80" fill="#222" text-anchor="middle" font-weight="normal">141</text>
<text x="55.00" y="332.00" font-size="8.20" fill="#1e1e1e" text-anchor="middle" font-weight="normal">M24</text>
<text x="85.00" y="202.60" font-size="6.80" fill="#222" text-anchor="middle" font-weight="normal">528</text>
<text x="85.00" y="332.00" font-size="8.20" fill="#1e1e1e" text-anchor="middle" font-weight="normal">M8</text>
<text x="138.10" y="188.60" font-size="10.20" fill="#111" text-anchor="start" font-weight="normal">407</text>
<text transform="translate(132.40,315.70) scale(0.88,1)" font-size="8.7" fill="#0a0a0a" text-anchor="end">0%</text>
<text transform="translate(132.40,288.70) scale(0.88,1)" font-size="8.7" fill="#0a0a0a" text-anchor="end">25%</text>
<text transform="translate(132.40,261.70) scale(0.88,1)" font-size="8.7" fill="#0a0a0a" text-anchor="end">50%</text>
<text transform="translate(132.40,233.70) scale(0.88,1)" font-size="8.7" fill="#0a0a0a" text-anchor="end">75%</text>
<text transform="translate(132.40,206.70) scale(0.88,1)" font-size="8.7" fill="#0a0a0a" text-anchor="end">100%</text>
<text x="157.00" y="202.60" font-size="6.80" fill="#222" text-anchor="middle" font-weight="normal">293</text>
<text x="157.00" y="332.00" font-size="8.20" fill="#1e1e1e" text-anchor="middle" font-weight="normal">M2</text>
<text x="186.00" y="202.60" font-size="6.80" fill="#222" text-anchor="middle" font-weight="normal">2.537</text>
<text x="186.00" y="332.00" font-size="8.20" fill="#1e1e1e" text-anchor="middle" font-weight="normal">M8</text>
<text x="239.50" y="188.40" font-size="10.20" fill="#111" text-anchor="start" font-weight="normal">408</text>
<text transform="translate(234.40,315.70) scale(0.88,1)" font-size="8.7" fill="#0a0a0a" text-anchor="end">0%</text>
<text transform="translate(234.40,288.70) scale(0.88,1)" font-size="8.7" fill="#0a0a0a" text-anchor="end">25%</text>
<text transform="translate(234.40,261.70) scale(0.88,1)" font-size="8.7" fill="#0a0a0a" text-anchor="end">50%</text>
<text transform="translate(234.40,233.70) scale(0.88,1)" font-size="8.7" fill="#0a0a0a" text-anchor="end">75%</text>
<text transform="translate(234.40,206.70) scale(0.88,1)" font-size="8.7" fill="#0a0a0a" text-anchor="end">100%</text>
<text x="258.00" y="202.60" font-size="6.80" fill="#222" text-anchor="middle" font-weight="normal">140</text>
<text x="258.00" y="332.00" font-size="8.20" fill="#1e1e1e" text-anchor="middle" font-weight="normal">M4</text>
<text x="288.00" y="202.60" font-size="6.80" fill="#222" text-anchor="middle" font-weight="normal">482</text>
<text x="288.00" y="332.00" font-size="8.20" fill="#1e1e1e" text-anchor="middle" font-weight="normal">M8</text>
<text x="340.80" y="188.60" font-size="10.20" fill="#111" text-anchor="start" font-weight="normal">409</text>
<text transform="translate(335.40,315.70) scale(0.88,1)" font-size="8.7" fill="#0a0a0a" text-anchor="end">0%</text>
<text transform="translate(335.40,288.70) scale(0.88,1)" font-size="8.7" fill="#0a0a0a" text-anchor="end">25%</text>
<text transform="translate(335.40,261.70) scale(0.88,1)" font-size="8.7" fill="#0a0a0a" text-anchor="end">50%</text>
<text transform="translate(335.40,233.70) scale(0.88,1)" font-size="8.7" fill="#0a0a0a" text-anchor="end">75%</text>
<text transform="translate(335.40,206.70) scale(0.88,1)" font-size="8.7" fill="#0a0a0a" text-anchor="end">100%</text>
<text x="359.50" y="202.60" font-size="6.80" fill="#222" text-anchor="middle" font-weight="normal">136</text>
<text x="359.50" y="332.00" font-size="8.20" fill="#1e1e1e" text-anchor="middle" font-weight="normal">M3</text>
<text x="389.00" y="202.60" font-size="6.80" fill="#222" text-anchor="middle" font-weight="normal">822</text>
<text x="389.00" y="332.00" font-size="8.20" fill="#1e1e1e" text-anchor="middle" font-weight="normal">M8</text>
<text x="442.10" y="188.60" font-size="10.20" fill="#111" text-anchor="start" font-weight="normal">410</text>
<text transform="translate(436.40,315.70) scale(0.88,1)" font-size="8.7" fill="#0a0a0a" text-anchor="end">0%</text>
<text transform="translate(436.40,288.70) scale(0.88,1)" font-size="8.7" fill="#0a0a0a" text-anchor="end">25%</text>
<text transform="translate(436.40,261.70) scale(0.88,1)" font-size="8.7" fill="#0a0a0a" text-anchor="end">50%</text>
<text transform="translate(436.40,233.70) scale(0.88,1)" font-size="8.7" fill="#0a0a0a" text-anchor="end">75%</text>
<text transform="translate(436.40,206.70) scale(0.88,1)" font-size="8.7" fill="#0a0a0a" text-anchor="end">100%</text>
<text x="460.50" y="202.60" font-size="6.80" fill="#222" text-anchor="middle" font-weight="normal">379</text>
<text x="460.50" y="332.00" font-size="8.20" fill="#1e1e1e" text-anchor="middle" font-weight="normal">M24</text>
<text x="490.00" y="202.60" font-size="6.80" fill="#222" text-anchor="middle" font-weight="normal">537</text>
<text x="490.00" y="332.00" font-size="8.20" fill="#1e1e1e" text-anchor="middle" font-weight="normal">M72</text>
<text x="11.90" y="14.70" font-size="11.20" fill="#000" text-anchor="start" font-weight="bold">A</text>
<text x="11.80" y="368.80" font-size="11.20" fill="#000" text-anchor="start" font-weight="bold">B</text>
<text x="242.95" y="353.00" font-size="10.71" fill="#2a6cc0" text-anchor="start" font-weight="normal">ALDH1A1</text>
<text x="204.65" y="364.50" font-size="11.32" fill="#3090a8">UMODL1 <tspan font-size="9.06" dy="-1.93">*</tspan></text>
<text x="260.75" y="361.00" font-size="11.07" fill="#30a0a0" text-anchor="start" font-weight="normal">SLCO4A1</text>
<text x="198.26" y="374.50" font-size="10.78" fill="#2a9aa0" text-anchor="start" font-weight="normal">SYPL1</text>
<text x="235.80" y="373.30" font-size="11.27" fill="#2a8a98">DLGAP1,DLGAP1−AS2 <tspan font-size="9.02" dy="-1.92">*</tspan><tspan dy="1.92">~</tspan></text>
<text x="209.45" y="383.00" font-size="10.55" fill="#3a80c8">APOL3 <tspan font-size="8.44" dy="-1.79">*</tspan></text>
<text x="258.62" y="384.20" font-size="12.53" fill="#68c070">ZMAT4 <tspan font-size="10.02" dy="-2.13">*</tspan></text>
<text x="139.94" y="383.00" font-size="11.05" fill="#2060b0">ABHD2 <tspan font-size="8.84" dy="-1.88">*</tspan><tspan dy="1.88">~</tspan></text>
<text x="150.97" y="398.00" font-size="11.07" fill="#3a8a98">TNS3 <tspan font-size="8.85" dy="-1.88">*</tspan></text>
<text x="193.22" y="394.60" font-size="12.80" fill="#58bc68" text-anchor="start" font-weight="normal">SLC2A5</text>
<text x="249.98" y="394.00" font-size="12.71" fill="#50b460">MAPRE2 <tspan font-size="10.17" dy="-2.16">*</tspan></text>
<text x="314.60" y="391.25" font-size="11.23" fill="#308898">PRKCH <tspan font-size="8.98" dy="-1.91">*</tspan></text>
<text x="142.22" y="406.25" font-size="11.09" fill="#50a8a0" text-anchor="start" font-weight="normal">XBP1</text>
<text x="175.16" y="407.50" font-size="13.57" fill="#50a890">PRKCB <tspan font-size="10.86" dy="-2.31">*</tspan></text>
<text x="234.30" y="405.50" font-size="15.02" fill="#90d040">MIR99AHG <tspan font-size="12.02" dy="-2.55">*</tspan></text>
<text x="329.17" y="405.00" font-size="10.38" fill="#205878">LYRM1 <tspan font-size="8.31" dy="-1.77">*</tspan></text>
<text x="339.13" y="412.50" font-size="10.86" fill="#307890">LINC01934 <tspan font-size="8.69" dy="-1.85">*</tspan></text>
<text x="128.59" y="420.00" font-size="11.44" fill="#4098c8" text-anchor="start" font-weight="normal">MIR4425</text>
<text x="179.57" y="418.75" font-size="14.33" fill="#80c850">ZNRF1 <tspan font-size="11.46" dy="-2.44">*</tspan></text>
<text x="254.31" y="418.00" font-size="14.83" fill="#80c860" text-anchor="start" font-weight="normal">LINC01700</text>
<text x="136.20" y="428.00" font-size="10.59" fill="#2060a8">AKNA <tspan font-size="8.47" dy="-1.80">*</tspan></text>
<text x="176.45" y="428.75" font-size="13.17" fill="#50a070" text-anchor="start" font-weight="normal">DENND3</text>
<text x="253.83" y="430.00" font-size="14.63" fill="#70b868">LINC−PINT <tspan font-size="11.71" dy="-2.49">*</tspan></text>
<text x="346.12" y="428.75" font-size="11.00" fill="#306890" text-anchor="start" font-weight="normal">LINC01341</text>
<text x="121.43" y="435.50" font-size="11.34" fill="#307890">CCND3 <tspan font-size="9.07" dy="-1.93">*</tspan><tspan dy="1.93">~</tspan></text>
<text x="195.59" y="440.50" font-size="14.63" fill="#a8d840">SEPT9 <tspan font-size="11.71" dy="-2.49">*</tspan><tspan dy="2.49">~</tspan></text>
<text x="257.52" y="442.50" font-size="15.44" fill="#a8d838">PHACTR1 <tspan font-size="12.35" dy="-2.62">*</tspan></text>
<text x="347.69" y="437.50" font-size="12.33" fill="#70c8b0" text-anchor="start" font-weight="normal">TTC34</text>
<text x="134.12" y="444.50" font-size="10.97" fill="#3088a8" text-anchor="start" font-weight="normal">B3GNT2</text>
<text x="249.30" y="453.75" font-size="15.00" fill="#a8d840">EPB41L3 <tspan font-size="12.00" dy="-2.55">*</tspan><tspan dy="2.55">~</tspan></text>
<text x="330.77" y="455.00" font-size="13.69" fill="#70c070" text-anchor="start" font-weight="normal">IL2RA ~</text>
<text x="383.25" y="456.25" font-size="11.02" fill="#3080a0" text-anchor="start" font-weight="normal">SERTAD2</text>
<text x="106.63" y="458.25" font-size="10.90" fill="#3088a0">MPZL3 <tspan font-size="8.72" dy="-1.85">*</tspan></text>
<text x="155.58" y="457.00" font-size="14.80" fill="#a8d848">SWAP70 <tspan font-size="11.84" dy="-2.52">*</tspan><tspan dy="2.52">~</tspan></text>
<text x="326.36" y="466.00" font-size="14.21" fill="#70c050">NRIP1 <tspan font-size="11.37" dy="-2.42">*</tspan></text>
<text x="372.89" y="463.75" font-size="10.76" fill="#3098b0">MRVI1 <tspan font-size="8.61" dy="-1.83">*</tspan><tspan dy="1.83">~</tspan></text>
<text x="119.95" y="469.50" font-size="10.97" fill="#3890c0">AHI1 <tspan font-size="8.78" dy="-1.86">*</tspan><tspan dy="1.86">~</tspan></text>
<text x="168.54" y="471.25" font-size="13.98" fill="#90c870">JAK1 <tspan font-size="11.18" dy="-2.38">*</tspan><tspan dy="2.38">~</tspan></text>
<text x="228.68" y="468.75" font-size="16.54" fill="#70c030">PRDM16 <tspan font-size="13.23" dy="-2.81">*</tspan><tspan dy="2.81">~</tspan></text>
<text x="336.46" y="478.75" font-size="13.03" fill="#50b080">LMO2 <tspan font-size="10.42" dy="-2.22">*</tspan><tspan dy="2.22">~!</tspan></text>
<text x="393.60" y="472.00" font-size="11.26" fill="#307890" text-anchor="start" font-weight="normal">NEDD9</text>
<text x="110.22" y="483.00" font-size="12.93" fill="#50b080">NKAIN2 <tspan font-size="10.34" dy="-2.20">*</tspan><tspan dy="2.20">~!</tspan></text>
<text x="188.27" y="483.00" font-size="16.01" fill="#60b030">ZMIZ1 <tspan font-size="12.81" dy="-2.72">*</tspan><tspan dy="2.72">~</tspan></text>
<text x="256.92" y="482.40" font-size="18.49" fill="#147010">MLLT3 <tspan font-size="14.79" dy="-3.14">*</tspan><tspan dy="3.14">~</tspan></text>
<text x="396.61" y="482.00" font-size="11.07" fill="#306888" text-anchor="start" font-weight="normal">NEK6</text>
<text x="111.43" y="493.75" font-size="12.76" fill="#40a880">SNX29 <tspan font-size="10.21" dy="-2.17">*</tspan><tspan dy="2.17">~</tspan></text>
<text x="172.27" y="497.00" font-size="14.67" fill="#a0d860">CHRM3 <tspan font-size="11.73" dy="-2.49">*</tspan></text>
<text x="238.81" y="497.60" font-size="19.83" fill="#2a6a12">BCL2 <tspan font-size="15.86" dy="-3.37">*</tspan><tspan dy="3.37">~!</tspan></text>
<text x="323.81" y="494.50" font-size="14.92" fill="#90d060">LINC01169 <tspan font-size="11.93" dy="-2.54">*</tspan></text>
<text x="76.20" y="511.25" font-size="10.79" fill="#2060a0">AHRR <tspan font-size="8.63" dy="-1.83">*</tspan></text>
<text x="119.66 166.50 204.42 244.36 287.17" y="539.80" font-size="56.70" fill="#940a0a">MECOM</text>
<text x="350.47" y="539.80" font-size="56.70" fill="#940a0a" stroke="#940a0a" stroke-width="1.3" transform="matrix(0.88,0,0,0.773,43.32,113.3)">*</text>
<path d="M375.3 524.6 C377.6 517.2, 382.8 515.8, 388.2 519.2 C393.2 522.3, 397.2 524.2, 400.6 516.6" fill="none" stroke="#940a0a" stroke-width="4.4"/>
<text x="89.57" y="548.50" font-size="11.68" fill="#3090a8">MSI2 <tspan font-size="9.34" dy="-1.99">*</tspan><tspan dy="1.99">~</tspan></text>
<text x="133.93" y="552.50" font-size="14.72" fill="#a0d870">VAV3 <tspan font-size="11.78" dy="-2.50">*</tspan><tspan dy="2.50">~</tspan></text>
<text x="200.75" y="558.00" font-size="25.64" fill="#e8103c" text-anchor="start" font-weight="normal">LMO2 ~!</text>
<text x="304.94" y="547.00" font-size="11.06" fill="#3070c0">AKAP13 <tspan font-size="8.85" dy="-1.88">*</tspan><tspan dy="1.88">~</tspan></text>
<text x="363.57" y="547.50" font-size="11.58" fill="#307890">ETV6 <tspan font-size="9.26" dy="-1.97">*</tspan><tspan dy="1.97">~!</tspan></text>
<text x="89.12" y="560.00" font-size="11.05" fill="#3898b0">PLCB4 <tspan font-size="8.84" dy="-1.88">*</tspan></text>
<text x="138.69" y="563.75" font-size="12.20" fill="#70c080">ABCC1 <tspan font-size="9.76" dy="-2.07">*</tspan><tspan dy="2.07">~</tspan></text>
<text x="307.60" y="558.75" font-size="14.43" fill="#b0d840" text-anchor="start" font-weight="normal">NFE2</text>
<text x="360.25" y="556.25" font-size="12.53" fill="#80c0a0" text-anchor="start" font-weight="normal">LY86</text>
<text x="396.95" y="557.00" font-size="10.83" fill="#3088b0">WIPF1 <tspan font-size="8.67" dy="-1.84">*</tspan></text>
<text x="93.25" y="573.75" font-size="11.00" fill="#3080a0" text-anchor="start" font-weight="normal">SPIN1</text>
<text x="133.44" y="573.75" font-size="13.23" fill="#60b070">BAALC <tspan font-size="10.59" dy="-2.25">*</tspan><tspan dy="2.25">~</tspan></text>
<text x="197.43" y="570.00" font-size="16.49" fill="#50b020">DACH1 <tspan font-size="13.19" dy="-2.80">*</tspan></text>
<text x="285.82" y="570.00" font-size="14.74" fill="#a0d040">HMGA2 <tspan font-size="11.80" dy="-2.51">*</tspan><tspan dy="2.51">~</tspan></text>
<text x="356.39" y="566.25" font-size="13.84" fill="#60b090">PTK2B <tspan font-size="11.07" dy="-2.35">*</tspan></text>
<text x="155.18" y="582.50" font-size="13.43" fill="#60b080">BAZ2B <tspan font-size="10.74" dy="-2.28">*</tspan></text>
<text x="212.19" y="583.00" font-size="16.29" fill="#60c030">CCND2 <tspan font-size="13.03" dy="-2.77">*</tspan><tspan dy="2.77">~!</tspan></text>
<text x="315.90" y="582.00" font-size="13.95" fill="#60b080">TSPOAP1 <tspan font-size="11.16" dy="-2.37">*</tspan><tspan dy="2.37">~</tspan></text>
<text x="112.11" y="590.00" font-size="11.08" fill="#307898">BCR <tspan font-size="8.87" dy="-1.88">*</tspan><tspan dy="1.88">~!</tspan></text>
<text x="199.28" y="595.00" font-size="14.50" fill="#90d050">GPR68 <tspan font-size="11.60" dy="-2.46">*</tspan><tspan dy="2.46">~</tspan></text>
<text x="298.81" y="592.50" font-size="14.93" fill="#70c070">LINC01122 <tspan font-size="11.95" dy="-2.54">*</tspan></text>
<text x="105.45" y="603.75" font-size="10.80" fill="#2068b8">AAK1 <tspan font-size="8.64" dy="-1.84">*</tspan></text>
<text x="145.21" y="601.25" font-size="13.03" fill="#60b090" text-anchor="start" font-weight="normal">NDST4</text>
<text x="203.04" y="608.00" font-size="14.48" fill="#a4d834" text-anchor="start" font-weight="normal">MAP3K8 ~</text>
<text x="275.83" y="607.00" font-size="14.56" fill="#90c850">FOXN3 <tspan font-size="11.65" dy="-2.48">*</tspan></text>
<text x="344.41" y="610.00" font-size="13.04" fill="#70c070" text-anchor="start" font-weight="normal">SPTBN1</text>
<text x="139.92" y="615.00" font-size="12.79" fill="#80c880">SORL1 <tspan font-size="10.24" dy="-2.18">*</tspan><tspan dy="2.18">~</tspan></text>
<text x="214.32" y="620.00" font-size="14.81" fill="#60b060">LDLRAD4 <tspan font-size="11.85" dy="-2.52">*</tspan></text>
<text x="299.34" y="625.00" font-size="13.24" fill="#60b080" text-anchor="start" font-weight="normal">CLNK</text>
<text x="341.09" y="620.00" font-size="11.33" fill="#3080a8">RPTOR <tspan font-size="9.06" dy="-1.93">*</tspan></text>
<text x="128.18" y="625.00" font-size="11.36" fill="#307890">CARD8 <tspan font-size="9.09" dy="-1.93">*</tspan><tspan dy="1.93">~</tspan></text>
<text x="348.58" y="627.50" font-size="11.49" fill="#408898">FKBP5 <tspan font-size="9.20" dy="-1.95">*</tspan></text>
<text x="185.83" y="632.00" font-size="14.68" fill="#b0d860" text-anchor="start" font-weight="normal">LOC101927851</text>
<text x="361.72" y="637.00" font-size="11.07" fill="#306888">TBC1D5 <tspan font-size="8.86" dy="-1.88">*</tspan></text>
<text x="138.21" y="640.50" font-size="10.83" fill="#307898">CACNA1C <tspan font-size="8.67" dy="-1.84">*</tspan></text>
<text x="220.80" y="641.25" font-size="13.32" fill="#48aca0">INPP4B <tspan font-size="10.66" dy="-2.27">*</tspan></text>
<text x="283.19" y="640.50" font-size="12.37" fill="#60b0a0">SETBP1 <tspan font-size="9.89" dy="-2.10">*</tspan><tspan dy="2.10">~</tspan></text>
<text x="324.60" y="648.75" font-size="11.29" fill="#3070b0">LINC01478 <tspan font-size="9.03" dy="-1.92">*</tspan></text>
<text x="143.60" y="650.50" font-size="11.21" fill="#3880a8">PLXNA4 <tspan font-size="8.97" dy="-1.91">*</tspan></text>
<text x="196.97" y="652.00" font-size="12.90" fill="#74bc94" text-anchor="start" font-weight="normal">LOC101929538 ~</text>
<text x="302.87" y="658.00" font-size="11.03" fill="#309888" text-anchor="start" font-weight="normal">DYRK1A ~</text>
<text x="253.61" y="660.50" font-size="11.09" fill="#3070b8">KDM4B <tspan font-size="8.87" dy="-1.88">*</tspan></text>
<text x="151.95" y="665.50" font-size="10.96" fill="#2060a8">ACTN4 <tspan font-size="8.77" dy="-1.86">*</tspan></text>
<text x="198.18" y="665.50" font-size="11.34" fill="#306890">CRADD <tspan font-size="9.08" dy="-1.93">*</tspan></text>
<text x="181.94" y="672.50" font-size="11.22" fill="#3080a8">CUEDC1 <tspan font-size="8.98" dy="-1.91">*</tspan><tspan dy="1.91">~</tspan></text>
<text x="256.46" y="672.00" font-size="10.84" fill="#307890" text-anchor="start" font-weight="normal">CYP1B1</text>
<text x="306.10" y="673.75" font-size="11.30" fill="#307898">RAD51B <tspan font-size="9.04" dy="-1.92">*</tspan><tspan dy="1.92">~</tspan></text>
<text x="157.12" y="680.50" font-size="11.03" fill="#307898">FAM227B,FGF7 <tspan font-size="8.82" dy="-1.87">*</tspan><tspan dy="1.87">~</tspan></text>
<text x="251.63" y="685.50" font-size="10.89" fill="#308898">PPM1F <tspan font-size="8.71" dy="-1.85">*</tspan></text>
</svg>
</div>
</body></html>
